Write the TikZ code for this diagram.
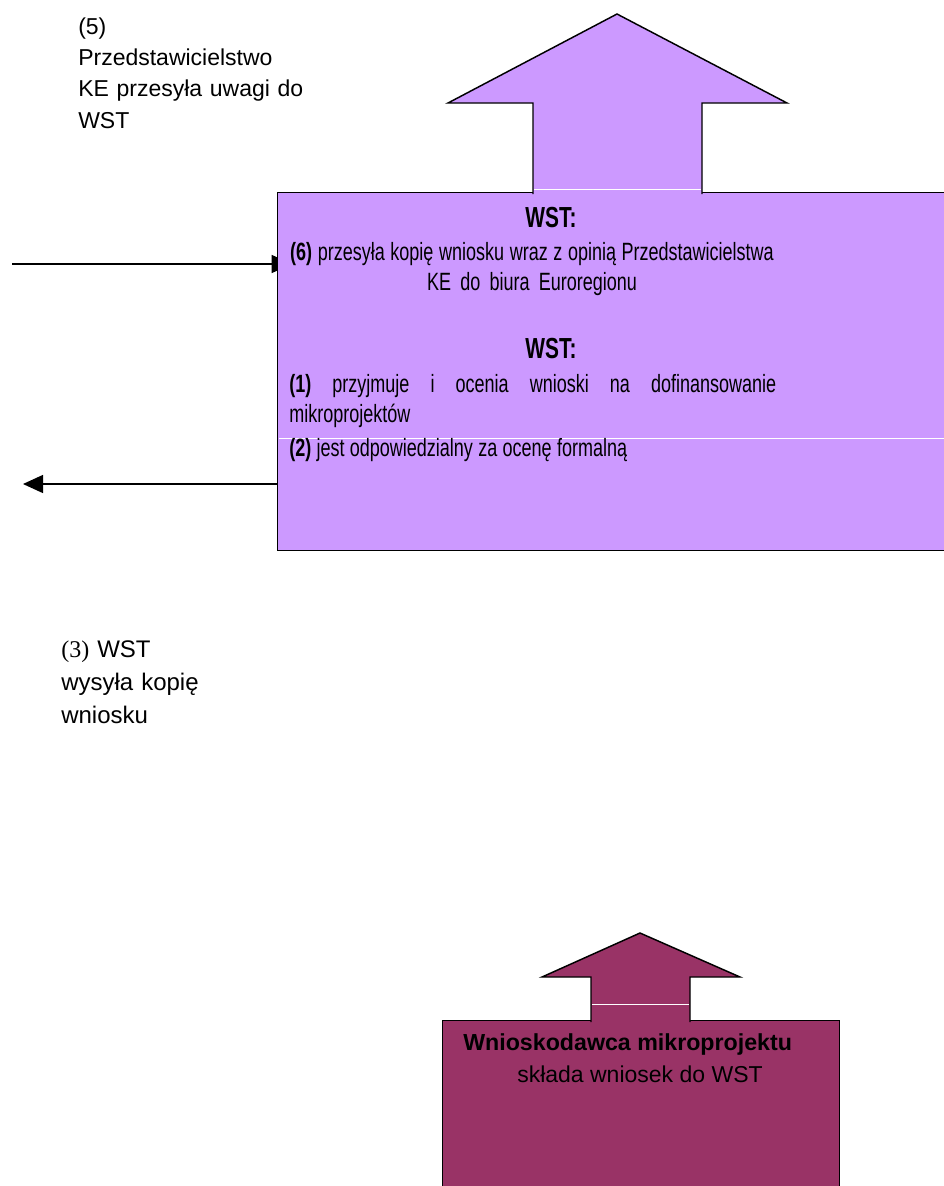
\documentclass[tikz,border=0pt]{standalone}
\usepackage{fontspec}
\setmainfont{Liberation Sans}
\newfontfamily\waski{Liberation Sans}[FakeStretch=0.72]
\newfontfamily\szeryf{Liberation Serif}
\protected\def\ciasno{\spaceskip=4pt plus 1pt minus 1pt\relax}
\usetikzlibrary{arrows.meta,backgrounds}
\definecolor{lawenda}{HTML}{CC99FF}
\definecolor{sliwka}{HTML}{993366}
\tikzset{
  opis/.style={align=left, inner sep=0pt, anchor=base west},
  tresc/.style={inner sep=0pt, font=\waski\fontsize{18.75pt}{22.5pt}\selectfont},
  naglowek/.style={inner sep=0pt, anchor=base, font=\waski\bfseries\fontsize{21.75pt}{24pt}\selectfont},
  pole/.style={draw=black, line width=1.1pt, inner sep=0pt, anchor=north west},
  strzalka/.style={line width=1pt, -{Triangle[length=15pt,width=13.5pt]}}
}
\begin{document}
\begin{tikzpicture}[x=0.75pt, y=-0.75pt]
                \useasboundingbox (0,0) rectangle (944,1186);
                % WST
                \node[pole, fill=lawenda, minimum width=513.75pt, minimum height=268.5pt] (wst) at (277,192) {};
                \filldraw[fill=lawenda, draw=black, line width=1.1pt, line join=miter]
                    (533,194) -- (533,103) -- (448,103) -- (617,14) -- (787,103) -- (702,103) -- (702,194);
                \draw[white, line width=0.6pt] (534,189) -- (701,189);
                \draw[white, line width=0.6pt] (279,438) -- (944,438);
                \node[naglowek] (wst6) at (551,227) {WST:};
                \node[tresc, anchor=base, text width=380pt, align=center] (krok6) at (532,260)
                    {\ciasno\textbf{(6)} przesyła kopię wniosku wraz z opinią Przedstawicielstwa\\ KE do biura Euroregionu};
                \node[naglowek] (wst1) at (551,358) {WST:};
                \node[tresc, anchor=base west, text width=365.25pt, align=left] (krok1) at (289,392)
                    {\ciasno\textbf{(1)}\hfill przyjmuje\hfill i\hfill ocenia\hfill wnioski\hfill na\hfill dofinansowanie\\
                     mikroprojektów\\[3pt]
                     \textbf{(2)} jest odpowiedzialny za ocenę formalną};
                % wnioskodawca
                \node[pole, fill=sliwka, minimum width=297.75pt, minimum height=135pt] (wniosk) at (442,1020) {};
                \filldraw[fill=sliwka, draw=black, line width=1.1pt, line join=miter]
                    (591,1022) -- (591,977) -- (542,977) -- (640,933) -- (740,977) -- (690,977) -- (690,1022);
                \draw[white, line width=0.6pt] (592,1004) -- (689,1004);
                \node[opis, font=\bfseries\fontsize{17.4pt}{20pt}\selectfont] (autor) at (463,1050) {Wnioskodawca mikroprojektu};
                \node[opis, font=\fontsize{17.25pt}{20pt}\selectfont] (sklada) at (517,1082) {składa wniosek do WST};
                % opisy po lewej
                \node[opis, text width=180pt, font=\fontsize{17.25pt}{23.5pt}\selectfont] (uwagi) at (78,34)
                    {(5)\\ Przedstawicielstwo\\ KE przesyła uwagi do\\ WST};
                \node[opis, text width=120pt, font=\fontsize{18pt}{24.75pt}\selectfont] (kopia) at (61,657)
                    {{\szeryf (3)} WST\\ wysyła kopię\\ wniosku};
                % strzalki
                \begin{scope}[on background layer]
                    \coordinate (od_ke) at (12,264);
                    \coordinate (do_ke) at (23,484);
                    \draw[strzalka] (od_ke) -- ([xshift=11pt]od_ke -| wst.west);
                    \draw[strzalka] (do_ke -| wst.west) -- (do_ke);
                \end{scope}
\end{tikzpicture}
\end{document}
